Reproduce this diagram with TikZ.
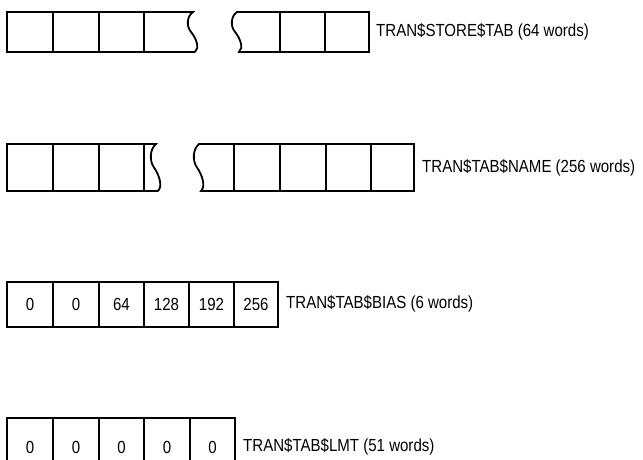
\documentclass[tikz,border=0pt]{standalone}
\usepackage{fontspec}
\setmainfont{Liberation Sans}[FakeStretch=0.86]
\begin{document}
\begin{tikzpicture}[x=1pt,y=-1pt,
  wall/.style={line width=1.8pt,line join=miter},
  label/.style={anchor=west,inner sep=0pt,font=\fontsize{17.5}{20}\selectfont},
  entry/.style={inner sep=0pt,font=\fontsize{17.5}{20}\selectfont}]
\useasboundingbox (0,0) rectangle (643,460);
\clip (0,0) rectangle (643,460);

% TRAN$STORE$TAB: two pieces with torn edges
\draw[wall] (195,52) -- (7,52) -- (7,12) -- (193,12)
  .. controls (187,16) and (186,26) .. (191,32)
  .. controls (196,38) and (200,48) .. (195,52);
\foreach \x in {53,99,144} \draw[wall] (\x,12) -- (\x,52);
\draw[wall] (237,12)
  .. controls (231,16) and (230,26) .. (235,32)
  .. controls (240,38) and (244,48) .. (239,52)
  -- (369,52) -- (369,12) -- cycle;
\foreach \x in {280,325} \draw[wall] (\x,12) -- (\x,52);
\node[label] (storetab) at (376,32) {TRAN\$STORE\$TAB (64 words)};

% TRAN$TAB$NAME: two pieces with torn edges
\draw[wall] (158,191) -- (7,191) -- (7,144) -- (156,144)
  .. controls (150,148.7) and (149,160.5) .. (154,167.5)
  .. controls (159,174.5) and (163,186.3) .. (158,191);
\foreach \x in {53,99,144} \draw[wall] (\x,144) -- (\x,191);
\draw[wall] (199,144)
  .. controls (193,148.7) and (192,160.5) .. (197,167.5)
  .. controls (202,174.5) and (206,186.3) .. (201,191)
  -- (414,191) -- (414,144) -- cycle;
\foreach \x in {234,280,326,371} \draw[wall] (\x,144) -- (\x,191);
\node[label] (tabname) at (422,168) {TRAN\$TAB\$NAME (256 words)};

% TRAN$TAB$BIAS: six words
\draw[wall] (7,282) rectangle (278,327);
\foreach \x in {53,99,144,189,234} \draw[wall] (\x,282) -- (\x,327);
\foreach \x/\v [count=\i] in {30/0,76/0,121.5/64,166.5/128,211.5/192,256/256}
  \node[entry] (bias\i) at (\x,304) {\v};
\node[label] (tabbias) at (286,304) {TRAN\$TAB\$BIAS (6 words)};

% TRAN$TAB$LMT: first entries
\draw[wall] (7,480) -- (7,418) -- (235,418) -- (235,480);
\foreach \x in {53,99,144,190} \draw[wall] (\x,418) -- (\x,480);
\foreach \x [count=\i] in {30,76,121.5,167,212.5}
  \node[entry] (lmt\i) at (\x,447) {0};
\node[label] (tablmt) at (243,447) {TRAN\$TAB\$LMT (51 words)};
\end{tikzpicture}
\end{document}
